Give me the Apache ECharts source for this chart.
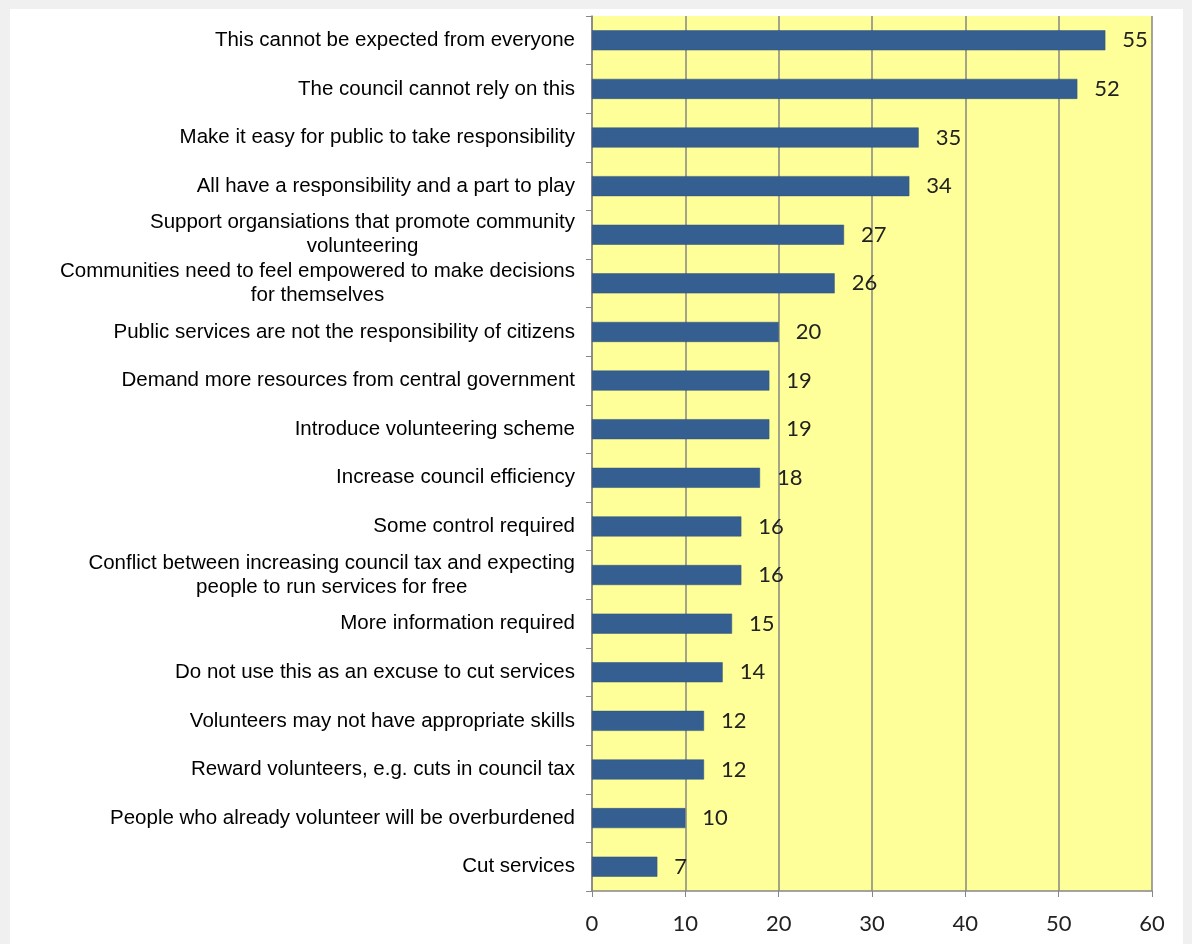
<!DOCTYPE html>
<html><head><meta charset="utf-8">
<script src="https://cdn.jsdelivr.net/npm/echarts@6/dist/echarts.min.js"></script>
<style>
html,body{margin:0;padding:0;background:#f0f0f0;}
#frame{position:absolute;left:10px;top:9px;width:1173px;height:935px;background:#ffffff;}
#chart{position:absolute;left:0;top:0;width:1192px;height:944px;}
</style></head>
<body>
<div id="frame"></div>
<div id="chart"></div>
<script>
const categories = [
  "This cannot be expected from everyone",
  "The council cannot rely on this",
  "Make it easy for public to take responsibility",
  "All have a responsibility and a part to play",
  "Support organsiations that promote community\nvolunteering",
  "Communities need to feel empowered to make decisions\nfor themselves",
  "Public services are not the responsibility of citizens",
  "Demand more resources from central government",
  "Introduce volunteering scheme",
  "Increase council efficiency",
  "Some control required",
  "Conflict between increasing council tax and expecting\npeople to run services for free",
  "More information required",
  "Do not use this as an excuse to cut services",
  "Volunteers may not have appropriate skills",
  "Reward volunteers, e.g. cuts in council tax",
  "People who already volunteer will be overburdened",
  "Cut services"
];
const values = [55, 52, 35, 34, 27, 26, 20, 19, 19, 18, 16, 16, 15, 14, 12, 12, 10, 7];
const xTicks = [0, 10, 20, 30, 40, 50, 60];

const labelFont = '"Liberation Sans", Arial, sans-serif';
const numFont = 'Lato, "Open Sans", sans-serif';

const chart = echarts.init(document.getElementById('chart'), null, {renderer: 'canvas'});
chart.setOption({
  backgroundColor: 'transparent',
  animation: false,
  grid: {left: 592, right: 40, top: 16, bottom: 53, show: true, backgroundColor: '#FFFF99', borderWidth: 0},
  xAxis: {
    type: 'value', min: xTicks[0], max: xTicks[xTicks.length - 1], interval: 10,
    axisLine: {show: true, lineStyle: {color: '#868686', width: 1.5}},
    axisTick: {show: true, length: 6, lineStyle: {color: '#868686'}},
    splitLine: {show: true, lineStyle: {color: '#868686', width: 1.5}},
    axisLabel: {margin: 22, fontFamily: numFont, fontSize: 22, color: '#222'}
  },
  yAxis: {
    type: 'category', data: categories, inverse: true,
    axisLine: {show: true, lineStyle: {color: '#868686', width: 1.5}},
    axisTick: {show: true, length: 6, lineStyle: {color: '#868686'}},
    axisLabel: {
      margin: 17, align: 'right', color: '#000',
      fontFamily: labelFont, fontSize: 20.5, lineHeight: 24,
      formatter: function (v) { return v.split('\n').map(function (s) { return '{c|' + s + '}'; }).join('\n'); },
      rich: {c: {align: 'center', fontFamily: labelFont, fontSize: 20.5, lineHeight: 24, color: '#000'}}
    }
  },
  series: [{
    type: 'bar', data: values, barWidth: 20,
    itemStyle: {color: '#365F91', borderColor: '#2c4e78', borderWidth: 0.5},
    label: {show: true, position: 'right', distance: 17, fontFamily: numFont, fontSize: 22, color: '#222'}
  }]
});
</script>
</body></html>
